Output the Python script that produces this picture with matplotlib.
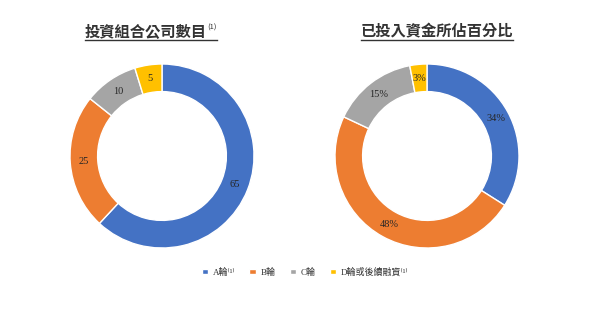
import matplotlib
matplotlib.use('Agg')
import matplotlib.pyplot as plt
from matplotlib.lines import Line2D
import numpy as np

plt.rcParams['font.family'] = ['Noto Sans CJK TC', 'DejaVu Sans']

# data
rounds = ['A輪⁽¹⁾', 'B輪', 'C輪', 'D輪或後續融資⁽¹⁾']
company_counts = [65, 25, 10, 5]
capital_pct = [34, 48, 15, 3]
colors = ['#4472C4', '#ED7D31', '#A5A5A5', '#FFC000']
title_left = '投資組合公司數目'
title_right = '已投入資金所佔百分比'


def donut(ax, values, fmt):
    wedges, _ = ax.pie(values, colors=colors, startangle=90, counterclock=False,
                       radius=1.0, wedgeprops=dict(width=0.3, edgecolor='white', linewidth=1))
    total = float(sum(values))
    start = 90.0
    for v in values:
        mid = start - 360.0 * v / total / 2
        start -= 360.0 * v / total
        r = 0.85
        ax.text(r * np.cos(np.radians(mid)), r * np.sin(np.radians(mid)), fmt(v),
                ha='center', va='center', fontsize=7.5, color='#262626',
                family=['Liberation Serif', 'DejaVu Serif'])
    ax.set_xlim(-1, 1)
    ax.set_ylim(-1, 1)
    ax.set_aspect('equal')
    ax.axis('off')
    return wedges


fig = plt.figure(figsize=(6.1, 3.09), dpi=100)
W, H = 610.0, 309.0
R = 92.0
ax1 = fig.add_axes([(162 - R) / W, 1 - (156 + R) / H, 2 * R / W, 2 * R / H])
ax2 = fig.add_axes([(427 - R) / W, 1 - (156 + R) / H, 2 * R / W, 2 * R / H])

wedges = donut(ax1, company_counts, lambda v: str(v))
donut(ax2, capital_pct, lambda v: '%d%%' % v)

# titles (underlined)
t1 = fig.text(85 / W, 1 - 31 / H, title_left, fontsize=11, fontweight='bold', color='#333333',
              ha='left', va='center')
t1s = fig.text(207 / W, 1 - 28 / H, '(1)', fontsize=5.5, color='#333333', ha='left', va='center')
t2 = fig.text(437 / W, 1 - 31 / H, title_right, fontsize=11, fontweight='bold', color='#333333',
              ha='center', va='center')

fig.canvas.draw()
renderer = fig.canvas.get_renderer()
for left_t, right_t in [(t1, t1s), (t2, t2)]:
    b1 = left_t.get_window_extent(renderer)
    b2 = right_t.get_window_extent(renderer)
    y = 1 - 40 / H
    fig.add_artist(Line2D([b1.x0 / W, b2.x1 / W], [y, y], color='#333333', linewidth=1))

fig.legend(wedges, rounds, loc='center', bbox_to_anchor=(0.5, 1 - 272 / H), ncol=4,
           frameon=False, handlelength=0.7, handleheight=0.5,
           columnspacing=1.6, handletextpad=0.5, labelcolor='#333333',
           prop={'family': ['Liberation Serif', 'Noto Sans CJK TC', 'DejaVu Sans'], 'size': 6.5})

fig.savefig('out.png', dpi=100, facecolor='white')
